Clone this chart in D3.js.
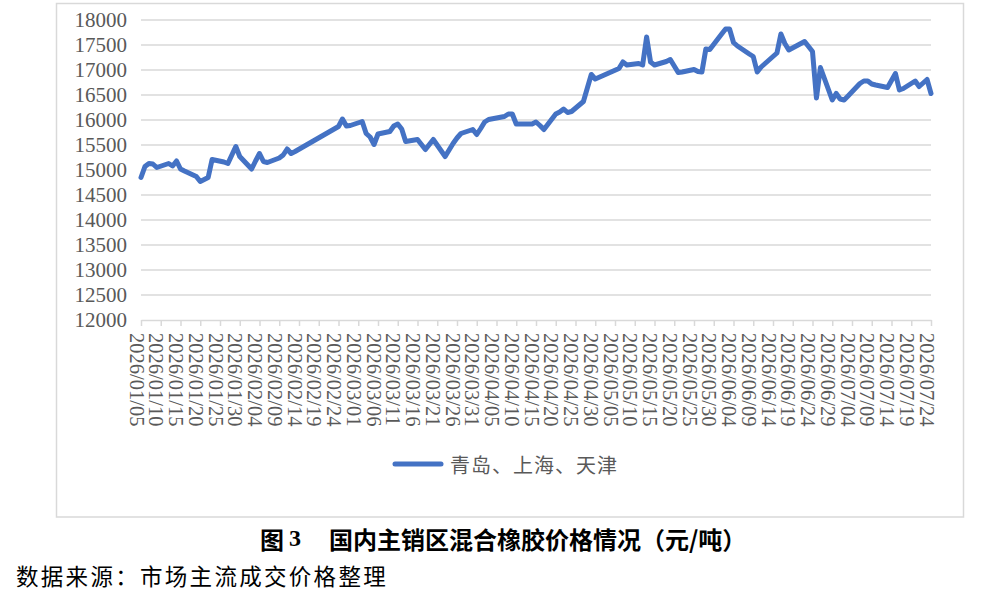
<!DOCTYPE html>
<html>
<head>
<meta charset="utf-8">
<script src="https://cdn.jsdelivr.net/npm/d3@7"></script>
<style>
  html, body { margin: 0; padding: 0; background: #fff; }
  svg { display: block; }
</style>
</head>
<body>
<svg id="chart" width="981" height="590"></svg>
<script>
// trading days and price (元/吨)
const dates = [
  "2026/01/05","2026/01/06","2026/01/07","2026/01/08","2026/01/09",
  "2026/01/12","2026/01/13","2026/01/14","2026/01/15","2026/01/16",
  "2026/01/19","2026/01/20","2026/01/21","2026/01/22","2026/01/23",
  "2026/01/26","2026/01/27","2026/01/28","2026/01/29","2026/01/30",
  "2026/02/02","2026/02/03","2026/02/04","2026/02/05","2026/02/06",
  "2026/02/09","2026/02/10","2026/02/11","2026/02/12","2026/02/13",
  "2026/02/24","2026/02/25","2026/02/26","2026/02/27",
  "2026/03/02","2026/03/03","2026/03/04","2026/03/05","2026/03/06",
  "2026/03/09","2026/03/10","2026/03/11","2026/03/12","2026/03/13",
  "2026/03/16","2026/03/17","2026/03/18","2026/03/19","2026/03/20",
  "2026/03/23","2026/03/24","2026/03/25","2026/03/26","2026/03/27",
  "2026/03/30","2026/03/31","2026/04/01","2026/04/02","2026/04/03",
  "2026/04/07","2026/04/08","2026/04/09","2026/04/10",
  "2026/04/13","2026/04/14","2026/04/15","2026/04/16","2026/04/17",
  "2026/04/20","2026/04/21","2026/04/22","2026/04/23","2026/04/24",
  "2026/04/27","2026/04/28","2026/04/29","2026/04/30",
  "2026/05/06","2026/05/07","2026/05/08",
  "2026/05/11","2026/05/12","2026/05/13","2026/05/14","2026/05/15",
  "2026/05/18","2026/05/19","2026/05/20","2026/05/21","2026/05/22",
  "2026/05/25","2026/05/26","2026/05/27","2026/05/28","2026/05/29",
  "2026/06/01","2026/06/02","2026/06/03","2026/06/04","2026/06/05",
  "2026/06/08","2026/06/09","2026/06/10","2026/06/11","2026/06/12",
  "2026/06/15","2026/06/16","2026/06/17","2026/06/18",
  "2026/06/22","2026/06/23","2026/06/24","2026/06/25","2026/06/26",
  "2026/06/29","2026/06/30","2026/07/01","2026/07/02","2026/07/03",
  "2026/07/06","2026/07/07","2026/07/08","2026/07/09","2026/07/10",
  "2026/07/13","2026/07/14","2026/07/15","2026/07/16","2026/07/17",
  "2026/07/20","2026/07/21","2026/07/22","2026/07/23","2026/07/24"
];
const prices = [
  14850, 15070, 15130, 15120, 15050,
  15130, 15080, 15180, 15020, 14980,
  14870, 14770, 14810, 14850, 15210,
  15160, 15130, 15300, 15470, 15270,
  15020, 15180, 15330, 15170, 15150,
  15240, 15300, 15420, 15330, 15370,
  15870, 16020, 15880, 15890,
  15970, 15730, 15660, 15510, 15720,
  15770, 15880, 15920, 15820, 15570,
  15610, 15510, 15410, 15510, 15610,
  15270, 15400, 15530, 15640, 15730,
  15810, 15710, 15830, 15960, 16010,
  16070, 16120, 16120, 15920,
  15920, 15920, 15960, 15890, 15810,
  16120, 16160, 16220, 16150, 16170,
  16370, 16640, 16910, 16820,
  17030, 17160, 17100,
  17130, 17100, 17660, 17160, 17100,
  17170, 17210, 17080, 16950, 16960,
  17010, 16970, 16960, 17420, 17410,
  17720, 17820, 17820, 17550, 17480,
  17320, 17270, 16960, 17060, 17130,
  17340, 17720, 17530, 17400,
  17570, 17470, 17370, 16440, 17050,
  16400, 16530, 16420, 16400, 16480,
  16730, 16780, 16780, 16720, 16700,
  16650, 16790, 16930, 16600, 16630,
  16780, 16670, 16740, 16810, 16530
];
const seriesName = "青岛、上海、天津";

// axis labels
const xTickLabels = [
  "2026/01/05","2026/01/10","2026/01/15","2026/01/20","2026/01/25","2026/01/30",
  "2026/02/04","2026/02/09","2026/02/14","2026/02/19","2026/02/24",
  "2026/03/01","2026/03/06","2026/03/11","2026/03/16","2026/03/21","2026/03/26","2026/03/31",
  "2026/04/05","2026/04/10","2026/04/15","2026/04/20","2026/04/25","2026/04/30",
  "2026/05/05","2026/05/10","2026/05/15","2026/05/20","2026/05/25","2026/05/30",
  "2026/06/04","2026/06/09","2026/06/14","2026/06/19","2026/06/24","2026/06/29",
  "2026/07/04","2026/07/09","2026/07/14","2026/07/19","2026/07/24"
];
const yTicks = [12000, 12500, 13000, 13500, 14000, 14500, 15000, 15500, 16000, 16500, 17000, 17500, 18000];

const titleText = "国内主销区混合橡胶价格情况（元/吨）";
const sourceText = "数据来源：市场主流成交价格整理";

const svg = d3.select("#chart");
const parseDate = d3.utcParse("%Y/%m/%d");
const data = dates.map((d, i) => ({ date: parseDate(d), value: prices[i] }));
const tickDates = xTickLabels.map(parseDate);

const scaleX = d3.scaleUtc()
  .domain([tickDates[0], tickDates[tickDates.length - 1]])
  .range([141, 931]);
const scaleY = d3.scaleLinear().domain([12000, 18000]).range([320, 20]);

const grey = "#d9d9d9";
const textGrey = "#595959";
const serif = "'Liberation Serif', 'Times New Roman', serif";
const cjk = "'Noto Sans CJK SC', sans-serif";

svg.append("rect").attr("width", 981).attr("height", 590).attr("fill", "#fff");

// chart frame
svg.append("rect")
  .attr("x", 56.5).attr("y", 3.5)
  .attr("width", 907).attr("height", 513.5)
  .attr("fill", "none")
  .attr("stroke", grey)
  .attr("stroke-width", 1.5);

// gridlines
svg.append("g")
  .selectAll("line")
  .data(yTicks.filter((t) => t > 12000))
  .enter()
  .append("line")
  .attr("x1", 141).attr("x2", 931)
  .attr("y1", (d) => scaleY(d)).attr("y2", (d) => scaleY(d))
  .attr("stroke", grey)
  .attr("stroke-width", 1.5);

// y axis labels
const yAxis = d3.axisLeft(scaleY)
  .tickValues(yTicks)
  .tickFormat(d3.format("d"))
  .tickSize(0)
  .tickPadding(14);
const gy = svg.append("g").attr("transform", "translate(141, 0)").call(yAxis);
gy.select(".domain").remove();
gy.selectAll("text")
  .attr("font-family", serif)
  .attr("font-size", 21)
  .attr("fill", textGrey);

// x axis with rotated date labels
const xAxis = d3.axisBottom(scaleX)
  .tickValues(tickDates)
  .tickSize(6)
  .tickSizeOuter(0)
  .tickFormat((d, i) => xTickLabels[i]);
const gx = svg.append("g").attr("transform", `translate(0, ${scaleY(12000)})`).call(xAxis);
gx.select(".domain").attr("stroke", grey).attr("stroke-width", 1.5);
gx.selectAll(".tick line").attr("stroke", grey).attr("stroke-width", 1.5);
gx.selectAll(".tick text")
  .attr("font-family", serif)
  .attr("font-size", 20.5)
  .attr("fill", textGrey)
  .attr("text-anchor", "start")
  .attr("dy", null)
  .attr("dominant-baseline", "central")
  .attr("transform", "translate(-5, 13) rotate(90)")
  .attr("x", 0)
  .attr("y", 0);

// price line
const line = d3.line()
  .x((d) => scaleX(d.date))
  .y((d) => scaleY(d.value));

svg.append("path")
  .datum(data)
  .attr("d", line)
  .attr("fill", "none")
  .attr("stroke", "#4472C4")
  .attr("stroke-width", 5)
  .attr("stroke-linejoin", "round")
  .attr("stroke-linecap", "round");

// legend
svg.append("line")
  .attr("x1", 395).attr("x2", 441)
  .attr("y1", 464).attr("y2", 464)
  .attr("stroke", "#4472C4")
  .attr("stroke-width", 5)
  .attr("stroke-linecap", "round");
svg.append("text")
  .attr("x", 450).attr("y", 464)
  .attr("dominant-baseline", "central")
  .attr("font-family", cjk)
  .attr("font-size", 20)
  .attr("letter-spacing", 1)
  .attr("fill", textGrey)
  .text(seriesName);

// caption
const title = svg.append("text")
  .attr("x", 260).attr("y", 538)
  .attr("dominant-baseline", "central")
  .attr("font-weight", "bold")
  .attr("font-size", 24)
  .attr("fill", "#000");
title.append("tspan").attr("font-family", cjk).text("图");
title.append("tspan").attr("font-family", serif).attr("dx", 5).text("3");
title.append("tspan").attr("font-family", cjk).attr("dx", 28).text(titleText);

svg.append("text")
  .attr("x", 16).attr("y", 575)
  .attr("dominant-baseline", "central")
  .attr("font-family", cjk)
  .attr("font-size", 22.5)
  .attr("letter-spacing", 2.3)
  .attr("fill", "#000")
  .text(sourceText);
</script>
</body>
</html>
